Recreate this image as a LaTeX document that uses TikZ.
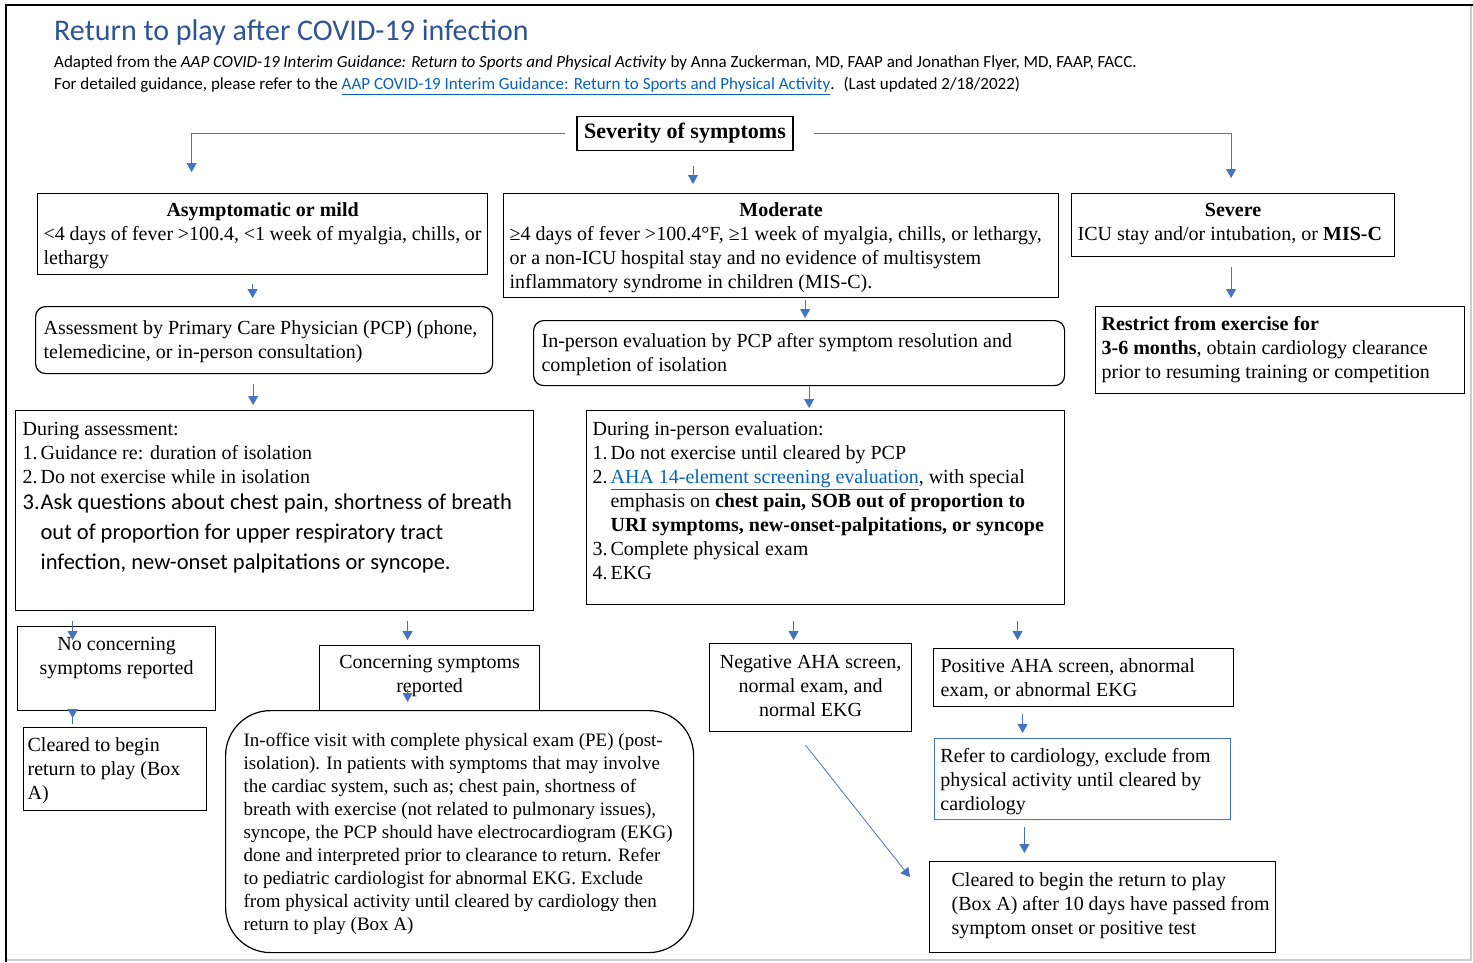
\documentclass[tikz,border=0pt]{standalone}
\usepackage{fontspec}
\setmainfont{Liberation Serif}
\newfontfamily\calibri{Carlito}
\usetikzlibrary{arrows.meta,positioning}
\definecolor{titleblue}{RGB}{47,84,150}
\definecolor{arrowblue}{RGB}{68,114,196}
\definecolor{linkblue}{RGB}{5,99,193}
\newcommand{\lnk}[1]{\textcolor{linkblue}{\underline{#1}}}
\newcommand{\bx}[4][7.2]{\parbox[c][#3pt][t]{#2pt}{\vspace*{#1pt}\strut#4}}
\newcommand{\itm}[1]{\makebox[18pt][l]{#1}}

\begin{document}
\begin{tikzpicture}[x=1pt,y=-1pt,
    box/.style={draw, line width=1.2pt, anchor=north west, inner ysep=0pt, inner xsep=6pt,
        font=\fontsize{20}{24}\selectfont},
    rbox/.style={box, rounded corners=10pt},
    arr/.style={draw=arrowblue, line width=1pt, -{Triangle[width=10pt,length=9pt]}},
    hdr/.style={anchor=west, inner sep=0pt, font=\calibri\fontsize{17}{20}\selectfont}]
    \useasboundingbox (0,0) rectangle (1473,962);
    % page frame
    \draw[gray!40, line width=2.5pt] (1471,5) -- (1471,960) -- (6,960);
    \draw[line width=2pt] (6,962) -- (6,5) -- (1473,5);

    % heading
    \node[anchor=west, inner sep=0pt, text=titleblue, font=\calibri\fontsize{30}{34}\selectfont] (title) at (54,32) {Return to play after COVID-19 infection};
    \node[hdr] (src) at (54,63) {Adapted from the \textit{AAP COVID-19 Interim Guidance: Return to Sports and Physical Activity} by Anna Zuckerman, MD, FAAP and Jonathan Flyer, MD, FAAP, FACC.};
    \node[hdr] (see) at (54,86) {For detailed guidance, please refer to the \lnk{AAP COVID-19 Interim Guidance: Return to Sports and Physical Activity}.~ (Last updated 2/18/2022)};

    \node[draw, line width=1.2pt, inner sep=2pt, minimum width=216pt, minimum height=34pt,
        font=\bfseries\fontsize{22}{26}\selectfont] (sev) at (685,133.5) {Severity of symptoms};

    % severity levels
    \node[box] (asym) at (37,193) {\bx[6.2]{438}{81}{{\centering\textbf{Asymptomatic or mild}\par}
        <4 days of fever >100.4, <1 week of myalgia, chills, or\\ lethargy}};
    \node[box] (mod) at (503,193) {\bx[6.2]{543}{104}{{\centering\textbf{Moderate}\par}
        ≥4 days of fever >100.4°F, ≥1 week of myalgia, chills, or lethargy,\\
        or a non-ICU hospital stay and no evidence of multisystem\\
        inflammatory syndrome in children (MIS-C).}};
    \node[box] (severe) at (1071,193) {\bx[6.2]{311}{63}{{\centering\textbf{Severe}\par}
        ICU stay and/or intubation, or \textbf{MIS-C}}};

    % first contact
    \node[rbox, inner xsep=8pt] (assess) at (35,306) {\bx[11.2]{441}{67}{Assessment by Primary Care Physician (PCP) (phone,\\
        telemedicine, or in-person consultation)}};
    \node[rbox, inner xsep=8pt] (inperson) at (533,320) {\bx[10.2]{515}{65}{In-person evaluation by PCP after symptom resolution and\\
        completion of isolation}};
    \node[box] (restrict) at (1095,306) {\bx{357}{87}{\textbf{Restrict from exercise for}\\
        \textbf{3-6 months}, obtain cardiology clearance\\
        prior to resuming training or competition}};

    % evaluations
    \node[box, inner xsep=7pt] (during1) at (15,410) {\bx[8.2]{504}{200}{During assessment:\\
        \itm{1.}Guidance re: duration of isolation\\
        \itm{2.}Do not exercise while in isolation\par\vspace{-4pt}
        {\calibri\fontsize{22.5}{30}\selectfont \itm{3.}Ask questions about chest pain, shortness of breath\\
        \hspace*{18pt}out of proportion for upper respiratory tract\\
        \hspace*{18pt}infection, new-onset palpitations or syncope.\par}}};
    \node[box] (during2) at (586,410) {\bx[8.2]{466}{194}{During in-person evaluation:\\
        \itm{1.}Do not exercise until cleared by PCP\\
        \itm{2.}\lnk{AHA 14-element screening evaluation}, with special\\
        \hspace*{18pt}emphasis on \textbf{chest pain, SOB out of proportion to}\\
        \hspace*{18pt}\textbf{URI symptoms, new-onset-palpitations, or syncope}\\
        \itm{3.}Complete physical exam\\
        \itm{4.}EKG}};

    % outcomes, mild
    \node[box] (nocon) at (17,626) {\bx{186}{84}{\centering No concerning\\ symptoms reported}};
    \node[box, inner xsep=4pt] (cleared1) at (23,727) {\bx{175}{83}{Cleared to begin\\ return to play (Box\\ A)}};
    \node[box] (concern) at (319,645) {\bx[6.2]{208}{65}{\centering Concerning symptoms\\ reported}};
    \node[box, rounded corners=45pt, font=\fontsize{19}{23}\selectfont] (office) at (225,710) {\bx[19.9]{456}{242}{\leftskip12pt
        In-office visit with complete physical exam (PE) (post-\\
        isolation). In patients with symptoms that may involve\\
        the cardiac system, such as; chest pain, shortness of\\
        breath with exercise (not related to pulmonary issues),\\
        syncope, the PCP should have electrocardiogram (EKG)\\
        done and interpreted prior to clearance to return. Refer\\
        to pediatric cardiologist for abnormal EKG. Exclude\\
        from physical activity until cleared by cardiology then\\
        return to play (Box A)}};

    % outcomes, moderate
    \node[box] (neg) at (709,643) {\bx[8.2]{190}{88}{\centering Negative AHA screen,\\ normal exam, and\\ normal EKG}};
    \node[box, inner xsep=7pt] (pos) at (933,648) {\bx{286}{58}{Positive AHA screen, abnormal\\ exam, or abnormal EKG}};
    \node[box, draw=arrowblue, line width=0.8pt] (refer) at (934,738) {\bx{284}{81}{Refer to cardiology, exclude from\\
        physical activity until cleared by\\ cardiology}};
    \node[box] (final) at (929,861) {\bx[8.2]{334}{91}{\leftskip16pt Cleared to begin the return to play\\
        (Box A) after 10 days have passed from\\ symptom onset or positive test}};

    % connectors
    \draw[arr] ([xshift=-11pt]sev.west) -| ([xshift=-71pt,yshift=21pt]asym.north);
    \draw[arr] ([xshift=20pt]sev.east) -| ([xshift=-2pt,yshift=15pt]severe.north);
    \draw[arr, shorten <=15pt, shorten >=9pt] ([xshift=8pt]sev.south) -- ([xshift=8pt]sev.south |- mod.north);
    \draw[arr, shorten <=9pt, shorten >=8pt] ([xshift=-10pt]asym.south) -- ([xshift=-10pt]asym.south |- assess.north);
    \draw[arr, shorten <=2pt, shorten >=2pt] ([xshift=24pt]mod.south) -- ([xshift=24pt]mod.south |- inperson.north);
    \draw[arr, shorten <=10pt, shorten >=8pt] ([xshift=-2pt]severe.south) -- ([xshift=-2pt]severe.south |- restrict.north);
    \draw[arr, shorten <=10pt, shorten >=5pt] ([xshift=-11pt]assess.south) -- ([xshift=-11pt]assess.south |- during1.north);
    \draw[arr, shorten >=2pt] ([xshift=10pt]inperson.south) -- ([xshift=10pt]inperson.south |- during2.north);
    \draw[arr, shorten <=10pt, shorten >=-14pt] ([xshift=-44pt]nocon.north |- during1.south) -- ([xshift=-44pt]nocon.north);
    \draw[arr, shorten <=10pt, shorten >=5pt] ([xshift=-22pt]concern.north |- during1.south) -- ([xshift=-22pt]concern.north);
    \draw[arr, shorten <=-13pt, shorten >=9pt] ([xshift=-44pt]nocon.south) -- ([xshift=-44pt]nocon.south |- cleared1.north);
    \draw[arr] ([xshift=-22pt,yshift=22pt]concern.south) -- ([xshift=-22pt,yshift=8pt]concern.south |- office.north);
    \draw[arr, shorten <=16pt, shorten >=3pt] ([xshift=-17pt]neg.north |- during2.south) -- ([xshift=-17pt]neg.north);
    \draw[arr, shorten <=16pt, shorten >=8pt] ([xshift=-66pt]pos.north |- during2.south) -- ([xshift=-66pt]pos.north);
    \draw[arr, shorten <=7pt, shorten >=5pt] ([xshift=-61pt]pos.south) -- ([xshift=-61pt]pos.south |- refer.north);
    \draw[arr, shorten <=7pt, shorten >=8pt] ([xshift=-58pt]refer.south) -- ([xshift=-58pt]refer.south |- final.north);
    \draw[arr, line width=0.8pt] ([xshift=-5pt,yshift=-13pt]neg.south) -- ([xshift=-19pt,yshift=30pt]final.west);
\end{tikzpicture}
\end{document}
